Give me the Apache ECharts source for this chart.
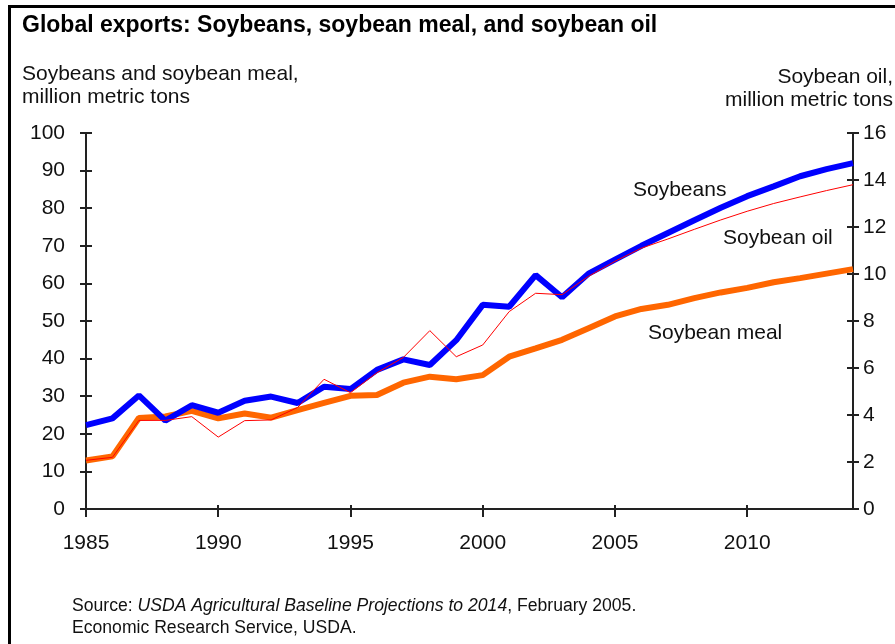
<!DOCTYPE html>
<html>
<head>
<meta charset="utf-8">
<script src="https://cdn.jsdelivr.net/npm/echarts@6/dist/echarts.min.js"></script>
<style>
  html, body { margin: 0; padding: 0; background: #fff; }
  #chart { width: 895px; height: 644px; }
</style>
</head>
<body>
<div id="chart"></div>
<script>
const years = [1985, 1986, 1987, 1988, 1989, 1990, 1991, 1992, 1993, 1994,
  1995, 1996, 1997, 1998, 1999, 2000, 2001, 2002, 2003, 2004,
  2005, 2006, 2007, 2008, 2009, 2010, 2011, 2012, 2013, 2014];
// million metric tons (left axis)
const soybeans = [22.3, 24.1, 30.2, 23.5, 27.6, 25.6, 28.8, 29.9, 28.2, 32.5,
  31.9, 37.0, 39.8, 38.3, 44.9, 54.3, 53.8, 62.2, 56.3, 62.6,
  66.3, 70.0, 73.4, 76.8, 80.1, 83.2, 85.8, 88.5, 90.4, 92.0];
const soybeanMeal = [12.9, 14.0, 24.2, 24.6, 26.1, 24.1, 25.4, 24.3, 26.3, 28.2,
  30.1, 30.3, 33.6, 35.2, 34.5, 35.6, 40.5, 42.7, 45.0, 48.1,
  51.2, 53.2, 54.3, 56.1, 57.6, 58.8, 60.3, 61.4, 62.6, 63.8];
// million metric tons (right axis)
const soybeanOil = [2.07, 2.2, 3.77, 3.77, 3.93, 3.06, 3.76, 3.79, 4.32, 5.52,
  4.95, 5.8, 6.45, 7.59, 6.48, 6.98, 8.4, 9.18, 9.12, 9.9,
  10.54, 11.1, 11.49, 11.9, 12.3, 12.67, 13.0, 13.28, 13.55, 13.8];
const xTickLabels = [1985, 1990, 1995, 2000, 2005, 2010];

const FONT = "'Liberation Sans', Arial, sans-serif";
const axisColor = "#222";

const chart = echarts.init(document.getElementById("chart"), null, { renderer: "canvas" });

function pairs(vals) {
  return years.map((y, i) => [y, vals[i]]);
}

// hidden copies of the axes, only to draw the inner half of the crossing ticks
function innerY(pos, max, interval) {
  return {
    type: "value", position: pos, min: 0, max: max, interval: interval,
    axisLine: { show: false },
    axisLabel: { show: false },
    splitLine: { show: false },
    axisTick: { show: true, inside: true, length: 6, lineStyle: { color: axisColor, width: 2 } },
  };
}

const option = {
  animation: false,
  backgroundColor: "#fff",
  grid: { left: 86, right: 42, top: 133, bottom: 135, outerBoundsMode: "none" },
  xAxis: [
    {
      type: "value", min: 1985, max: 2014,
      axisLine: { lineStyle: { color: axisColor, width: 2 } },
      axisTick: { length: 8, customValues: xTickLabels, lineStyle: { color: axisColor, width: 2 } },
      axisLabel: {
        customValues: xTickLabels, margin: 24, color: "#111", fontSize: 21, fontFamily: FONT,
        formatter: (v) => String(v),
      },
      splitLine: { show: false },
    },
    {
      type: "value", min: 1985, max: 2014, position: "bottom",
      axisLine: { show: false },
      axisLabel: { show: false },
      splitLine: { show: false },
      axisTick: { inside: true, length: 4, customValues: xTickLabels, lineStyle: { color: axisColor, width: 2 } },
    },
  ],
  yAxis: [
    {
      type: "value", position: "left", min: 0, max: 100, interval: 10,
      axisLine: { show: true, lineStyle: { color: axisColor, width: 2 } },
      axisTick: { show: true, length: 6, lineStyle: { color: axisColor, width: 2 } },
      axisLabel: { margin: 21, color: "#111", fontSize: 21, fontFamily: FONT },
      splitLine: { show: false },
    },
    {
      type: "value", position: "right", min: 0, max: 16, interval: 2,
      axisLine: { show: true, lineStyle: { color: axisColor, width: 2 } },
      axisTick: { show: true, length: 6, lineStyle: { color: axisColor, width: 2 } },
      axisLabel: { margin: 10, color: "#111", fontSize: 21, fontFamily: FONT },
      splitLine: { show: false },
    },
    innerY("left", 100, 10),
    innerY("right", 16, 2),
  ],
  series: [
    {
      name: "Soybean meal", type: "line", yAxisIndex: 0, data: pairs(soybeanMeal),
      symbol: "none", lineStyle: { color: "#ff6600", width: 6 }, z: 2,
    },
    {
      name: "Soybeans", type: "line", yAxisIndex: 0, data: pairs(soybeans),
      symbol: "none", lineStyle: { color: "#0000ff", width: 6 }, z: 3,
    },
    {
      name: "Soybean oil", type: "line", yAxisIndex: 1, data: pairs(soybeanOil),
      symbol: "none", lineStyle: { color: "#ff0000", width: 1 }, z: 4,
    },
  ],
  graphic: [
    // frame
    { type: "line", shape: { x1: 8, y1: 6.5, x2: 895, y2: 6.5 }, style: { stroke: "#000", lineWidth: 3 } },
    { type: "line", shape: { x1: 9.5, y1: 5, x2: 9.5, y2: 644 }, style: { stroke: "#000", lineWidth: 3 } },
    // title
    { type: "text", left: 22, top: 14, style: { text: "Global exports: Soybeans, soybean meal, and soybean oil", font: "bold 23px " + FONT, fill: "#000" } },
    // axis titles
    { type: "text", x: 22, y: 74, style: { text: "Soybeans and soybean meal,", font: "21px " + FONT, fill: "#111", verticalAlign: "middle" } },
    { type: "text", x: 22, y: 97, style: { text: "million metric tons", font: "21px " + FONT, fill: "#111", verticalAlign: "middle" } },
    { type: "text", x: 893, y: 77, style: { text: "Soybean oil,", font: "21px " + FONT, fill: "#111", align: "right", verticalAlign: "middle" } },
    { type: "text", x: 725, y: 100, style: { text: "million metric tons", font: "21px " + FONT, fill: "#111", verticalAlign: "middle" } },
    // series labels
    { type: "text", x: 633, y: 190, style: { text: "Soybeans", font: "21px " + FONT, fill: "#111", verticalAlign: "middle" } },
    { type: "text", x: 723, y: 238, style: { text: "Soybean oil", font: "21px " + FONT, fill: "#111", verticalAlign: "middle" } },
    { type: "text", x: 648, y: 333, style: { text: "Soybean meal", font: "21px " + FONT, fill: "#111", verticalAlign: "middle" } },
    // source
    {
      type: "text", x: 72, y: 606,
      style: {
        text: "{n|Source: }{i|USDA Agricultural Baseline Projections to 2014}{n|, February 2005.}",
        verticalAlign: "middle",
        rich: {
          n: { font: "17.6px " + FONT, fill: "#111" },
          i: { font: "italic 17.6px " + FONT, fill: "#111" },
        },
      },
    },
    { type: "text", x: 72, y: 628, style: { text: "Economic Research Service, USDA.", font: "17.6px " + FONT, fill: "#111", verticalAlign: "middle" } },
  ],
};

chart.setOption(option);
</script>
</body>
</html>
